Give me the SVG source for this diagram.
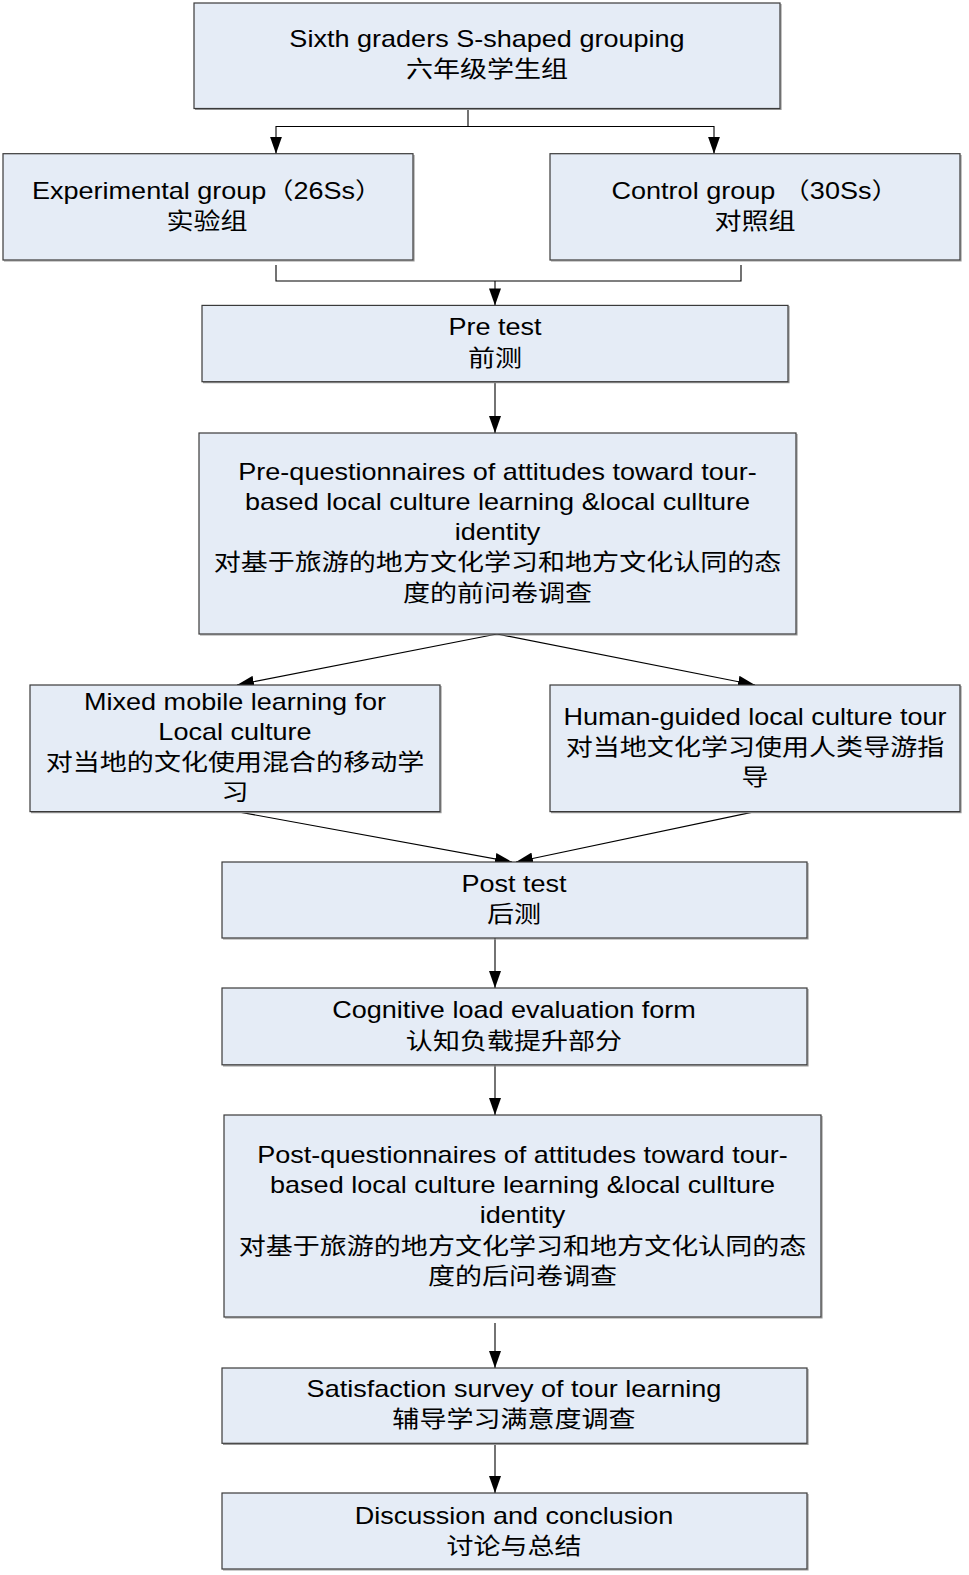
<svg xmlns="http://www.w3.org/2000/svg" width="969" height="1575" viewBox="0 0 969 1575">
<style>
.box{fill:#E5ECF6;stroke:#3a3a3a;stroke-width:1.2}
.sh{fill:none;stroke:#9a9a9a;stroke-width:1.2}
.t text{font-family:"Liberation Sans","Noto Sans CJK SC",Arial,sans-serif;font-size:23px;fill:#000;text-anchor:middle}
.c{fill:none;stroke:#000;stroke-width:1.1}
</style>
<defs>
<marker id="ah" markerUnits="userSpaceOnUse" markerWidth="17" markerHeight="12" refX="17" refY="6" orient="auto">
<path d="M0,0 L17,6 L0,12 z" fill="#000"/>
</marker>
</defs>
<rect width="969" height="1575" fill="#fff"/>

<g id="connectors">
<path class="c" d="M468,108.5 V126.5 H276 V153.7" marker-end="url(#ah)"/>
<path class="c" d="M468,126.5 H714 V153.7" marker-end="url(#ah)"/>
<path class="c" d="M276,265 V281 H741 V265"/>
<path class="c" d="M495,281 V305.4" marker-end="url(#ah)"/>
<path class="c" d="M495,381.7 V433" marker-end="url(#ah)"/>
<path class="c" d="M497,634 L237,685" marker-end="url(#ah)"/>
<path class="c" d="M497,634 L755,685" marker-end="url(#ah)"/>
<path class="c" d="M237,811.6 L512,862" marker-end="url(#ah)"/>
<path class="c" d="M755,811.6 L516,862" marker-end="url(#ah)"/>
<path class="c" d="M495,938 V988" marker-end="url(#ah)"/>
<path class="c" d="M495,1064.8 V1115" marker-end="url(#ah)"/>
<path class="c" d="M495,1323 V1368" marker-end="url(#ah)"/>
<path class="c" d="M495,1443.5 V1493" marker-end="url(#ah)"/>
</g>

<g id="n1">
<path class="sh" d="M195,109.5 H781 V4"/>
<rect class="box" x="194" y="3" width="586" height="105.5"/>
<g class="t" transform="matrix(1.176 0 0 1 487 0)"><text y="47">Sixth graders S-shaped grouping</text><text y="77">六年级学生组</text></g>
</g>

<g id="n2">
<path class="sh" d="M4,261 H414 V155"/>
<rect class="box" x="3" y="153.7" width="410" height="106.3"/>
<g class="t" transform="matrix(1.176 0 0 1 207 0)"><text y="199">Experimental group（26Ss）</text><text y="229">实验组</text></g>
</g>

<g id="n3">
<path class="sh" d="M551,261 H961 V155"/>
<rect class="box" x="550" y="153.7" width="410" height="106.3"/>
<g class="t" transform="matrix(1.176 0 0 1 755 0)"><text y="199">Control group （30Ss）</text><text y="229">对照组</text></g>
</g>

<g id="n4">
<path class="sh" d="M203,382.7 H789 V306"/>
<rect class="box" x="202" y="305.4" width="586" height="76.3"/>
<g class="t" transform="matrix(1.176 0 0 1 495 0)"><text y="335.5">Pre test</text><text y="365.6">前测</text></g>
</g>

<g id="n5">
<path class="sh" d="M200,635 H797 V434"/>
<rect class="box" x="199" y="433" width="597" height="201"/>
<g class="t" transform="matrix(1.176 0 0 1 497.5 0)"><text y="480">Pre-questionnaires of attitudes toward tour-</text><text y="510">based local culture learning &amp;local cullture</text><text y="540">identity</text><text y="570">对基于旅游的地方文化学习和地方文化认同的态</text><text y="601">度的前问卷调查</text></g>
</g>

<g id="n6">
<path class="sh" d="M31,812.6 H441 V686"/>
<rect class="box" x="30" y="685" width="410" height="126.6"/>
<g class="t" transform="matrix(1.176 0 0 1 235 0)"><text y="710">Mixed mobile learning for</text><text y="740">Local culture</text><text y="770">对当地的文化使用混合的移动学</text><text y="800">习</text></g>
</g>

<g id="n7">
<path class="sh" d="M551,812.6 H961 V686"/>
<rect class="box" x="550" y="685" width="410" height="126.6"/>
<g class="t" transform="matrix(1.176 0 0 1 755 0)"><text y="725">Human-guided local culture tour</text><text y="755">对当地文化学习使用人类导游指</text><text y="785">导</text></g>
</g>

<g id="n8">
<path class="sh" d="M223,939 H808 V863"/>
<rect class="box" x="222" y="862" width="585" height="76"/>
<g class="t" transform="matrix(1.176 0 0 1 514 0)"><text y="892">Post test</text><text y="922">后测</text></g>
</g>

<g id="n9">
<path class="sh" d="M223,1065.8 H808 V989"/>
<rect class="box" x="222" y="988" width="585" height="76.8"/>
<g class="t" transform="matrix(1.176 0 0 1 514 0)"><text y="1018.5">Cognitive load evaluation form</text><text y="1048.7">认知负载提升部分</text></g>
</g>

<g id="n10">
<path class="sh" d="M225,1318 H822 V1116"/>
<rect class="box" x="224" y="1115" width="597" height="202"/>
<g class="t" transform="matrix(1.176 0 0 1 522.5 0)"><text y="1163">Post-questionnaires of attitudes toward tour-</text><text y="1193">based local culture learning &amp;local cullture</text><text y="1223">identity</text><text y="1254">对基于旅游的地方文化学习和地方文化认同的态</text><text y="1284">度的后问卷调查</text></g>
</g>

<g id="n11">
<path class="sh" d="M223,1444.3 H808 V1369"/>
<rect class="box" x="222" y="1368" width="585" height="75.3"/>
<g class="t" transform="matrix(1.176 0 0 1 514 0)"><text y="1397">Satisfaction survey of tour learning</text><text y="1427">辅导学习满意度调查</text></g>
</g>

<g id="n12">
<path class="sh" d="M223,1570 H808 V1494"/>
<rect class="box" x="222" y="1493" width="585" height="76"/>
<g class="t" transform="matrix(1.176 0 0 1 514 0)"><text y="1524">Discussion and conclusion</text><text y="1554">讨论与总结</text></g>
</g>
</svg>
